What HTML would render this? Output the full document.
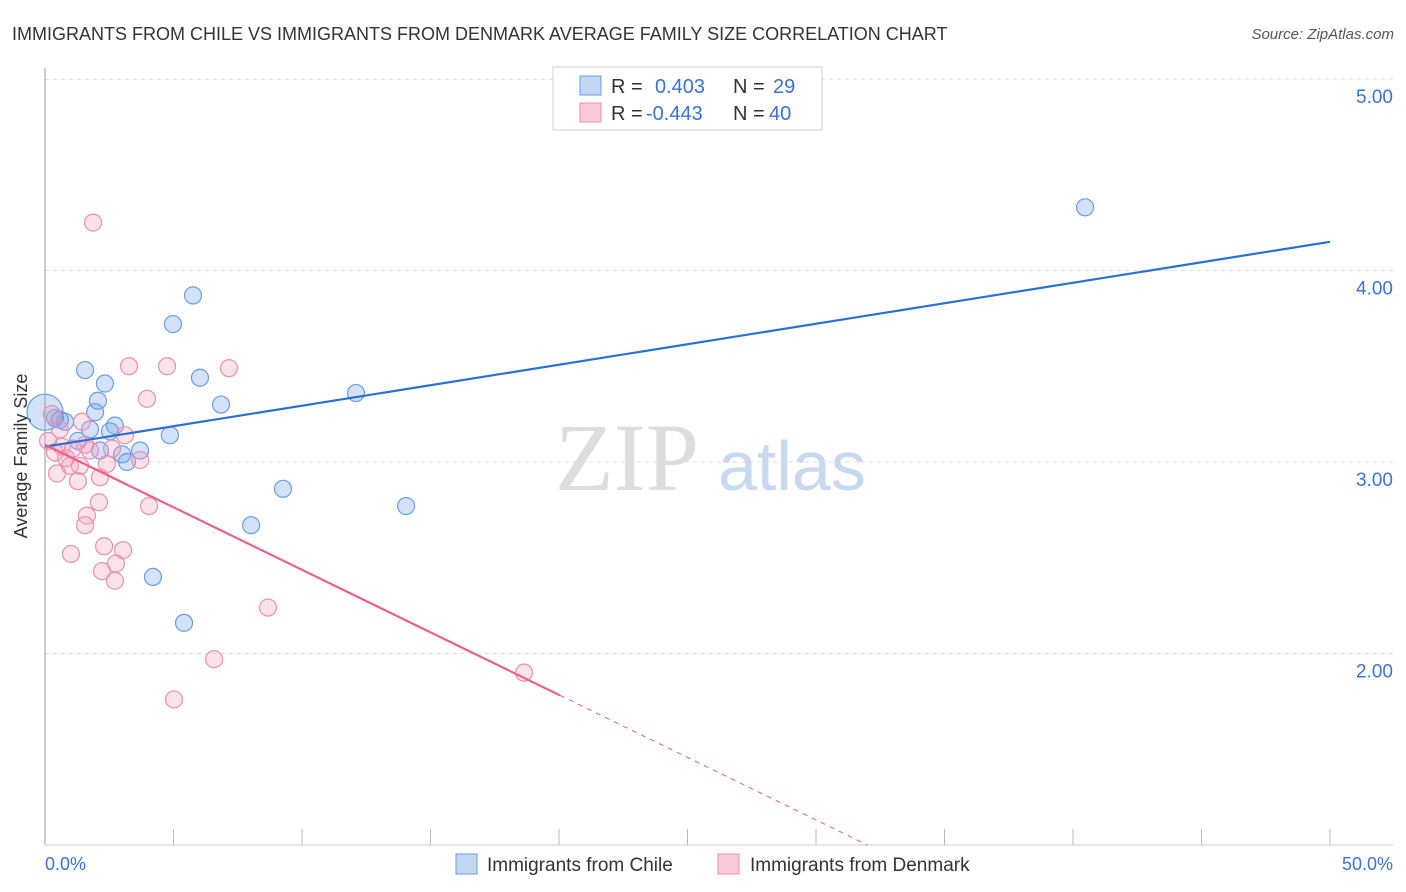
<!DOCTYPE html>
<html><head><meta charset="utf-8"><style>
body{margin:0;background:#fff;font-family:"Liberation Sans",sans-serif;}
svg{display:block}
</style></head><body>
<svg width="1406" height="892" xmlns="http://www.w3.org/2000/svg">
<text x="12" y="40" font-size="18" fill="#333">IMMIGRANTS FROM CHILE VS IMMIGRANTS FROM DENMARK AVERAGE FAMILY SIZE CORRELATION CHART</text>
<text x="1394" y="39" font-size="15" fill="#555" font-style="italic" text-anchor="end">Source: ZipAtlas.com</text>
<g id="grid"></g>
<line x1="45" y1="68" x2="45" y2="845" stroke="#bbb" stroke-width="1.5"/>
<line x1="45" y1="845" x2="1393" y2="845" stroke="#ccc"/>
<g id="xticks"></g>
<text x="555" y="490" font-size="96" font-family="Liberation Serif,serif" fill="#ddd">ZIP</text>
<text x="718" y="490" font-size="70" fill="#c8d8ee">atlas</text>
<text x="27" y="456" font-size="18" fill="#333" text-anchor="middle" transform="rotate(-90 27 456)">Average Family Size</text>
<text x="45" y="870" font-size="18" fill="#3a73d0">0.0%</text>
<text x="1393" y="870" font-size="18" fill="#3a73d0" text-anchor="end">50.0%</text>
<g id="marks"></g>
<g>
<rect x="553" y="67" width="269" height="63" fill="#fff" stroke="#ccc"/>
<rect x="580" y="76" width="21" height="19" fill="#c3d6f3" stroke="#6a9de0"/>
<rect x="580" y="103" width="21" height="19" fill="#f9cad9" stroke="#e890ae"/>
<text x="611" y="93" font-size="20" fill="#333">R = </text><text x="655" y="93" font-size="20" fill="#3a73d0">0.403</text>
<text x="733" y="93" font-size="20" fill="#333">N = </text><text x="773" y="93" font-size="20" fill="#3a73d0">29</text>
<text x="611" y="120" font-size="20" fill="#333">R = </text><text x="646" y="120" font-size="20" fill="#3a73d0">-0.443</text>
<text x="733" y="120" font-size="20" fill="#333">N = </text><text x="769" y="120" font-size="20" fill="#3a73d0">40</text>
</g>
<g><rect x="456" y="854" width="21" height="20" fill="#c3d6f3" stroke="#6a9de0"/><text x="487" y="871" font-size="19" fill="#333">Immigrants from Chile</text></g>
<g><rect x="718" y="854" width="21" height="20" fill="#f9cad9" stroke="#e890ae"/><text x="750" y="871" font-size="19" fill="#333">Immigrants from Denmark</text></g>
</svg>
<script>
const yTicks=[2,3,4,5];
const yTickLabels=["2.00","3.00","4.00","5.00"];
const chileX=[40.47,5.76,4.98,1.56,2.33,6.03,2.06,6.85,12.10,1.95,0.39,0.78,2.72,2.53,1.75,1.28,4.86,3.70,3.00,3.19,9.26,14.05,8.02,4.20,5.41,0.0,0.58,2.14];
const chileY=[4.33,3.87,3.72,3.48,3.41,3.44,3.32,3.30,3.36,3.26,3.23,3.21,3.19,3.16,3.17,3.11,3.14,3.06,3.04,3.00,2.86,2.77,2.67,2.40,2.16,3.26,3.22,3.06];
const denX=[1.87,3.27,4.75,7.16,3.97,3.11,1.44,0.27,0.12,0.66,1.75,0.39,0.97,1.36,2.41,3.70,2.14,0.47,1.28,2.10,4.05,1.63,1.56,2.30,3.04,1.01,2.76,2.22,2.72,8.68,6.58,18.64,5.02,0.58,0.82,2.61,1.56,1.09];
const denY=[4.25,3.50,3.50,3.49,3.33,3.14,3.21,3.25,3.11,3.08,3.06,3.05,2.98,2.98,2.99,3.01,2.92,2.94,2.90,2.79,2.77,2.72,2.67,2.56,2.54,2.52,2.47,2.43,2.38,2.24,1.97,1.90,1.76,3.17,3.02,3.07,3.09,3.07];
const chileFit=[3.08,0.0214];
const denFit=[3.09,-0.0653];
const X=v=>45+v*25.7, Y=v=>462-(v-3)*191.5;
const NS="http://www.w3.org/2000/svg";
function mk(t,a,p){const e=document.createElementNS(NS,t);for(const k in a)e.setAttribute(k,a[k]);p.appendChild(e);return e;}
const grid=document.getElementById('grid');
yTicks.forEach((t,i)=>{
 const l=mk('line',{x1:45,x2:1393,y1:Y(t)-(t==5?-0.5:0),y2:Y(t),stroke:'#ddd','stroke-dasharray':'4,4'},grid);
 
 
 const tx=mk('text',{x:1393,y:Y(t)+24,'font-size':19,fill:'#3a73d0','text-anchor':'end'},grid);
 tx.textContent=yTickLabels[i];
 
 
});
const xt=document.getElementById('xticks');
for(let p=0;p<=50;p+=5){const l=mk('line',{x1:X(p),x2:X(p),y1:829,y2:845,stroke:'#bbb'},xt);
 
 }
const m=document.getElementById('marks');
chileX.forEach((x,i)=>{const c=mk('circle',{cx:X(x),cy:Y(chileY[i]),r:(i==25?18:8.5),fill:'rgba(110,160,235,0.3)',stroke:'#6a9de0','stroke-width':1.2},m);
 
 });
denX.forEach((x,i)=>{const c=mk('circle',{cx:X(x),cy:Y(denY[i]),r:8.5,fill:'rgba(245,160,190,0.3)',stroke:'#e890ae','stroke-width':1.2},m);
 
 });
let l=mk('line',{x1:X(0),y1:Y(chileFit[0]),x2:X(50),y2:Y(chileFit[0]+chileFit[1]*50),stroke:'#2a6fd6','stroke-width':2.2},m);


const xEnd=20.04, xZero=(1-denFit[0])/denFit[1];
l=mk('line',{x1:X(0),y1:Y(denFit[0]),x2:X(xEnd),y2:Y(denFit[0]+denFit[1]*xEnd),stroke:'#e8618c','stroke-width':2.2},m);


l=mk('line',{x1:X(xEnd),y1:Y(denFit[0]+denFit[1]*xEnd),x2:X(xZero),y2:Y(1),stroke:'#e8618c','stroke-width':1,'stroke-dasharray':'5,5'},m);


</script>
</body></html>
